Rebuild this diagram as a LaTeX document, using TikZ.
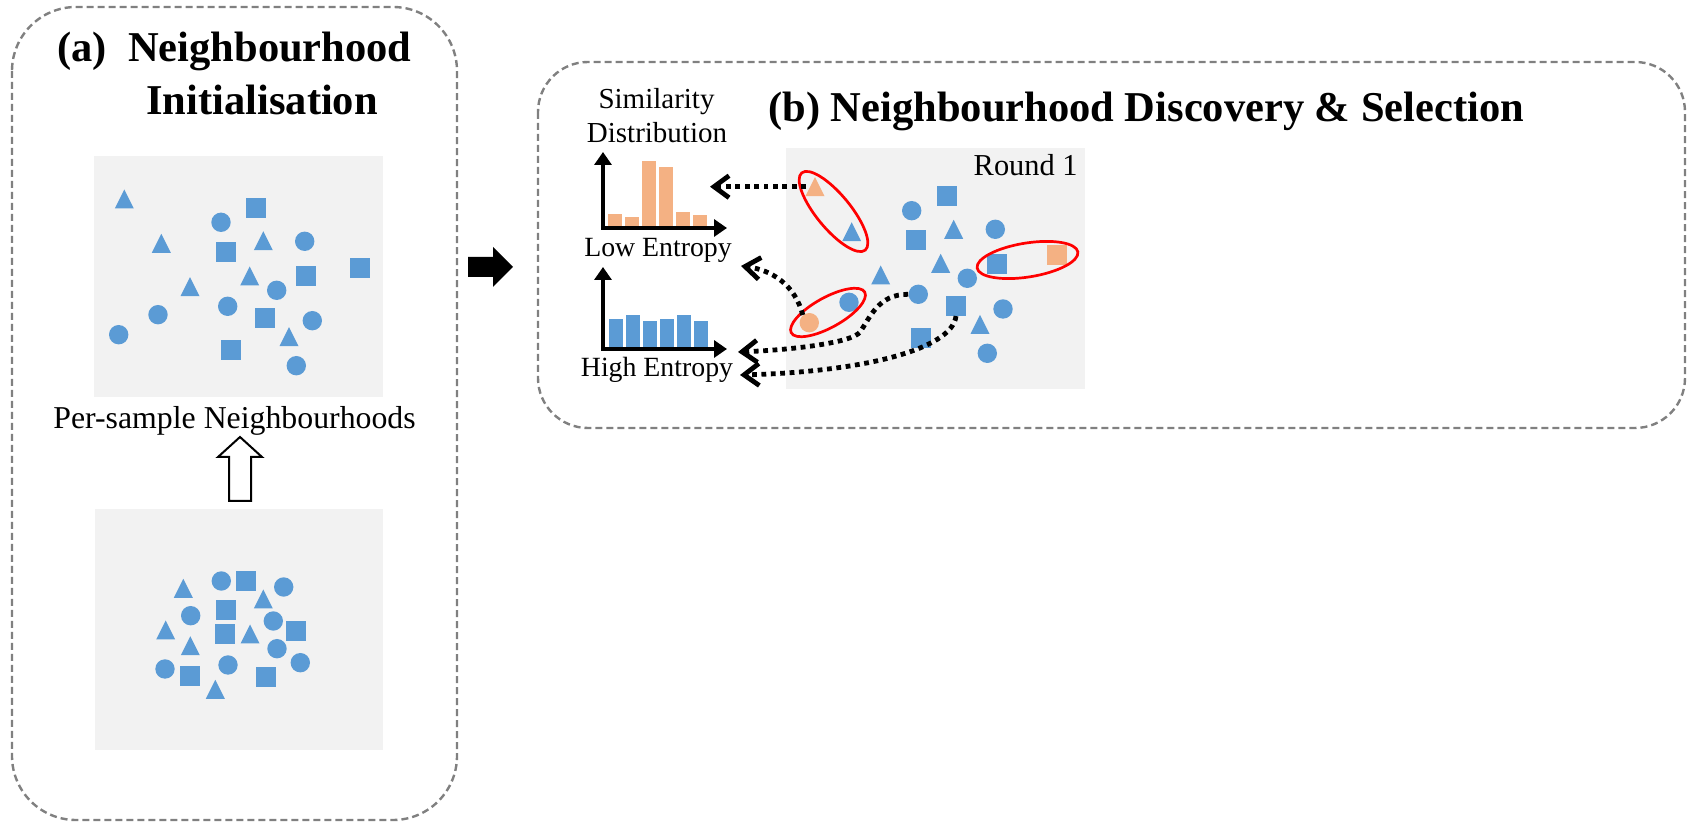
\documentclass[tikz,border=0pt]{standalone}
\usepackage{fontspec}
\setmainfont{Liberation Serif}
\usetikzlibrary{arrows.meta}
\definecolor{sblue}{HTML}{5B9BD5}
\definecolor{sorange}{HTML}{F4B183}
\definecolor{panelgray}{HTML}{F2F2F2}
\definecolor{boxgray}{HTML}{808080}
\definecolor{ringred}{HTML}{FF0000}
\tikzset{
  frame/.style={draw=boxgray, line width=1.2pt, dash pattern=on 3.5pt off 2pt},
  panel/.style={fill=panelgray},
  circ/.style={circle, fill=#1, inner sep=0pt, minimum size=9.7pt},
  sq/.style={rectangle, fill=#1, inner sep=0pt, minimum size=10pt},
  tri/.pic={\path[pic actions] (-9.5,9.5) -- (9.5,9.5) -- (0,-9.5) -- cycle;},
  title/.style={inner sep=0pt, font=\fontsize{21.25pt}{25pt}\selectfont\bfseries},
  lbl/.style={inner sep=0pt, font=\fontsize{14.5pt}{17pt}\selectfont},
  entlbl/.style={inner sep=0pt, font=\fontsize{13.9pt}{17pt}\selectfont},
  axis/.style={line width=2pt, {Triangle[length=6.5pt,width=8.5pt]}-{Triangle[length=6.5pt,width=8.5pt]}},
  ring/.style={draw=ringred, line width=1.35pt},
  dotarrow/.style={line width=2.4pt, dash pattern=on 2.4pt off 2.3pt, -{Straight Barb[length=7.5pt,width=11pt]}},
}
\begin{document}
\begin{tikzpicture}[x=0.5pt,y=-0.5pt]
\useasboundingbox (0,0) rectangle (1688,822);
% frames
\draw[frame, rounded corners=32pt] (12,7) rectangle (457,820);
\draw[frame, rounded corners=25pt] (538,62) rectangle (1685,428);
% titles
\node[title, anchor=base west] (ta1) at (57,62) {(a)~~Neighbourhood};
\node[title, anchor=base west] (ta2) at (146,115) {Initialisation};
\node[title, anchor=base west] (tb) at (768,122) {(b) Neighbourhood Discovery \& Selection};
% panels
\fill[panel] (94,156) rectangle (383,397);
\fill[panel] (95,509) rectangle (383,750);
\fill[panel] (786,148) rectangle (1085,389);
% panel a1
\foreach \x/\y in {124.3/199,161.3/243.3,263.3/240.7,249.7/276,190/286.7,289/336.7}
  \pic[fill=sblue] at (\x,\y) {tri};
\foreach \x/\y [count=\i] in {221/222.3,304.7/241.3,276.7/290.3,227.7/306.3,158/314.7,118.7/334.7,312.3/320.7,296.3/365.7}
  \node[circ=sblue] (a1c\i) at (\x,\y) {};
\foreach \x/\y [count=\i] in {256/208,226/252,306/276,360/267.7,265/318,231/350}
  \node[sq=sblue] (a1s\i) at (\x,\y) {};
% panel a2
\foreach \x/\y in {183.3/588.3,263.3/599,165.7/630,190.3/645.7,250/634,215.3/689.3}
  \pic[fill=sblue] at (\x,\y) {tri};
\foreach \x/\y [count=\i] in {221.3/581,283.7/587,190.7/615.7,273.3/621,277/648.7,300.3/662.7,165/669,228/665}
  \node[circ=sblue] (a2c\i) at (\x,\y) {};
\foreach \x/\y [count=\i] in {246/581,226/610,296/630.7,225/634,190/676,266/677}
  \node[sq=sblue] (a2s\i) at (\x,\y) {};
% labels panel a
\node[lbl, font=\fontsize{15.9pt}{18pt}\selectfont, anchor=base west] (psn) at (53,429) {Per-sample Neighbourhoods};
\draw[fill=white, line width=1pt, line join=miter] (229,501) -- (229,457) -- (218,457) -- (240,437) -- (262,457) -- (251,457) -- (251,501) -- cycle;
% block arrow between boxes
\fill (468,257) -- (493,257) -- (493,247) -- (513,267) -- (493,287) -- (493,277) -- (468,277) -- cycle;
% panel b shapes
\pic[fill=sorange] at (815,186.7) {tri};
\coordinate (otriL) at (806,186.7);
\foreach \x/\y in {851.7/231.7,880.7/275,953.7/229.3,940.7/263.3,980/324.3}
  \pic[fill=sblue] at (\x,\y) {tri};
\node[circ=sorange] (ocirc) at (809.3,322.7) {};
\node[circ=sblue] (bcirc) at (918.3,294.3) {};
\foreach \x/\y [count=\i] in {849/302.3,911.7/210.7,995.3/229.3,967.3/278.3,1003/309,987.3/353.3}
  \node[circ=sblue] (bc\i) at (\x,\y) {};
\node[sq=sorange] (osq) at (1056.7,255.3) {};
\node[sq=sblue] (bsq) at (956,305.7) {};
\foreach \x/\y [count=\i] in {946.7/196,916/240,997/264,920.7/337.7}
  \node[sq=sblue] (bs\i) at (\x,\y) {};
% red rings
\draw[ring, rotate around={-50.6:(833.5,211.5)}] (833.5,211.5) ellipse [x radius=50, y radius=17];
\draw[ring, rotate around={29:(828,312.5)}] (828,312.5) ellipse [x radius=42, y radius=15];
\draw[ring, rotate around={9:(1027.5,260)}] (1027.5,260) ellipse [x radius=51, y radius=17];
\node[lbl, font=\fontsize{15.2pt}{18pt}\selectfont, anchor=base east] (round) at (1078,176) {Round 1};
% charts
\node[lbl, anchor=base] (sim) at (656.5,109) {Similarity};
\node[lbl, anchor=base] (dist) at (657,143) {Distribution};
\foreach \xa/\xb/\t in {608/622/214,625/639/216.7,642/656/161,659/673/167,676/690/212,693/707/215}
  \fill[sorange] (\xa,\t) rectangle (\xb,227);
\coordinate (c1o) at (603,228);
\coordinate (c1y) at (603,152);
\coordinate (c1x) at (727,228);
\draw[axis] (c1y) -- (c1o) -- (c1x);
\node[entlbl, anchor=base] (low) at (658,257) {Low Entropy};
\foreach \xa/\xb/\t in {609/623/319,626/640/315,643/657/321,660/674/319,677/691/315,694/708/321}
  \fill[sblue] (\xa,\t) rectangle (\xb,348);
\coordinate (c2o) at (603,349);
\coordinate (c2y) at (603,267);
\coordinate (c2x) at (727,349);
\draw[axis] (c2y) -- (c2o) -- (c2x);
\node[entlbl, anchor=base] (high) at (657,377) {High Entropy};
% dotted connectors
\coordinate (tipA) at (710,186.7);
\coordinate (tipB) at (741,266);
\coordinate (tipC) at (738,352);
\coordinate (tipD) at (740,375);
\draw[dotarrow] (otriL) -- (tipA);
\draw[dotarrow] (ocirc.130) .. controls (795,285) and (772,270) .. (tipB);
\draw[dotarrow] (bcirc.west) .. controls (878,294) and (870,318) .. (860,332) .. controls (852,343) and (790,350) .. (tipC);
\draw[dotarrow] (bsq.south) .. controls (952,350) and (860,372) .. (tipD);
\end{tikzpicture}
\end{document}
